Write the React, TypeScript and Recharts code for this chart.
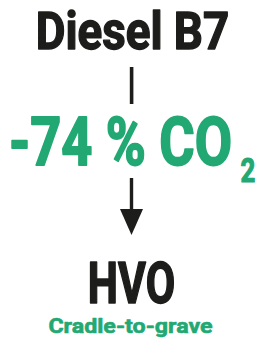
import { Surface, Layer, Text, Polygon, Rectangle } from 'recharts'

const fuelLabels = ['Diesel B7', 'HVO']
const reductionValues = [-74]
const gasLabels = ['CO', '2']
const scopeLabels = ['Cradle-to-grave']

const DARK = '#1d1d1b'
const GREEN = '#22a873'
const FONT = 'Roboto'

let ctx: CanvasRenderingContext2D | null = null
const measure = (text: string, size: number) => {
	if (!ctx) ctx = document.createElement('canvas').getContext('2d')
	if (!ctx) return text.length * size * 0.55
	ctx.font = `700 ${size}px ${FONT}`
	return ctx.measureText(text).width
}

// squeeze a bold label horizontally so it spans `width` px, centred on cx
const FitText = ({
	label,
	cx,
	y,
	width,
	size,
	color,
	weight = 1.4,
}: {
	label: string
	cx: number
	y: number
	width: number
	size: number
	color: string
	weight?: number
}) => {
	const natural = measure(label, size)
	const sx = (width - weight) / natural
	return (
		<Layer transform={`translate(${cx} ${y}) scale(${sx} 1)`}>
			<Text
				x={0}
				y={0}
				textAnchor="middle"
				fontFamily={FONT}
				fontWeight={700}
				fontSize={size}
				fill={color}
				stroke={color}
				strokeWidth={weight}
				strokeLinejoin="round"
			>
				{label}
			</Text>
		</Layer>
	)
}

const App = () => {
	const reduction = `${reductionValues[0]} % ${gasLabels[0]}`
	return (
		<div style={{ position: 'absolute', left: 0, top: 0, width: 259, height: 342, background: '#fff' }}>
			<Surface width={259} height={342} viewBox={{ x: 0, y: 0, width: 259, height: 342 }}>
				<FitText label={fuelLabels[0]} cx={132.5} y={48.5} width={195} size={51} color={DARK} />
				<Rectangle x={129.8} y={67} width={3.6} height={37} fill={DARK} />

				<FitText label={reduction} cx={120.5} y={164.5} width={225} size={66} color={GREEN} weight={1.8} />
				<FitText label={gasLabels[1]} cx={248} y={181.5} width={16} size={34} color={GREEN} weight={1.2} />

				<Rectangle x={129.8} y={178} width={3.4} height={33} fill={DARK} />
				<Polygon
					points={[
						{ x: 120, y: 209 },
						{ x: 143, y: 209 },
						{ x: 131.5, y: 235 },
					]}
					fill={DARK}
				/>

				<FitText label={fuelLabels[1]} cx={131.5} y={302.5} width={89} size={57} color={DARK} weight={1.6} />
				<FitText label={scopeLabels[0]} cx={130.5} y={333} width={165} size={21} color={GREEN} weight={0.6} />
			</Surface>
		</div>
	)
}

export default App
